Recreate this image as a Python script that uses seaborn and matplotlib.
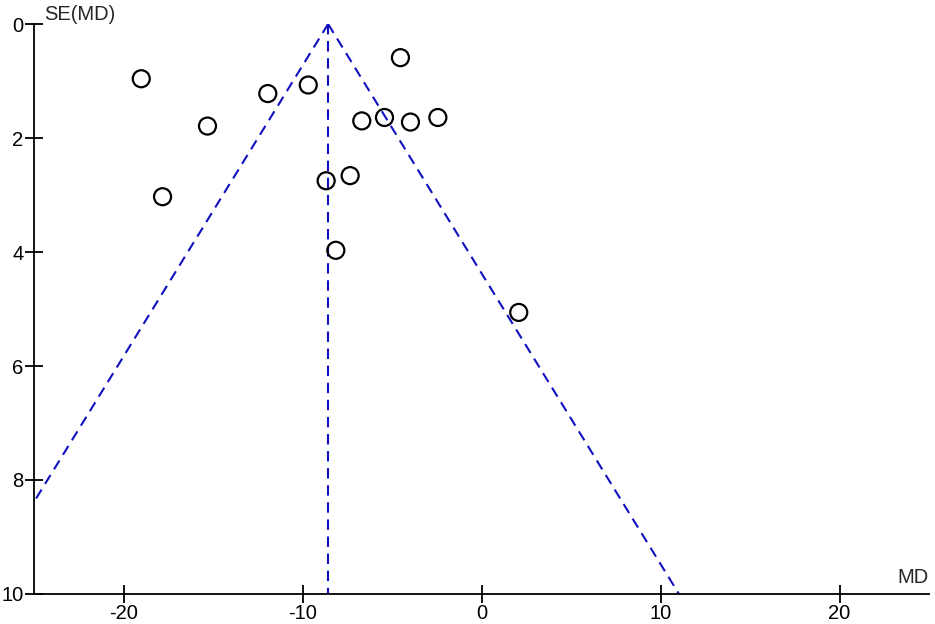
import matplotlib
matplotlib.use("Agg")
import matplotlib.pyplot as plt
import seaborn as sns
import numpy as np
import pandas as pd

md = [-4.53, -9.68, -11.94, -6.69, -5.42, -3.97, -2.44, -7.34, -8.68, -8.14,
      -19.01, -15.31, -17.82, 2.08]
se = [0.59, 1.07, 1.22, 1.70, 1.64, 1.72, 1.64, 2.66, 2.75, 3.97,
      0.96, 1.79, 3.03, 5.06]
pooled_md = -8.57
x_ticks = [-20, -10, 0, 10, 20]
y_ticks = [0, 2, 4, 6, 8, 10]

sns.set_style("white")
plt.rcParams['font.family'] = ['Liberation Sans', 'DejaVu Sans']

df = pd.DataFrame({"MD": md, "SE": se})

fig = plt.figure(figsize=(9.35, 6.24), dpi=100)
ax = fig.add_axes([0.0364, 0.0481, 0.9572, 0.9134])

se_line = np.array([0.0, 10.0])
blue = "#1010c0"
dash = (0, (5, 3.2))
ax.plot([pooled_md, pooled_md], [0, 10], ls=dash, color=blue, lw=1.5, zorder=1)
ax.plot(pooled_md - 1.96 * se_line, se_line, ls=dash, color=blue, lw=1.5, zorder=1)
ax.plot(pooled_md + 1.96 * se_line, se_line, ls=dash, color=blue, lw=1.5, zorder=1)

sns.scatterplot(data=df, x="MD", y="SE", ax=ax, marker="o", s=150,
                facecolor="none", edgecolor="black", linewidth=1.6, zorder=3)

ax.set_xlim(-25, 25)
ax.set_ylim(10, 0)
ax.set_xticks(x_ticks)
ax.set_yticks(y_ticks)
ax.set_xticklabels([str(v) for v in x_ticks])
ax.set_yticklabels([str(v) for v in y_ticks])
ax.set_xlabel("")
ax.set_ylabel("")
for s in ["top", "right"]:
    ax.spines[s].set_visible(False)
for s in ["left", "bottom"]:
    ax.spines[s].set_color("black")
    ax.spines[s].set_linewidth(1.3)
ax.tick_params(axis="both", which="major", direction="inout", length=13, width=1.3,
               labelsize=14.5, colors="black", bottom=True, left=True)
ax.tick_params(axis="x", pad=1)
ax.tick_params(axis="y", pad=1)

ax.text(0.011, 1.0, "SE(MD)", transform=ax.transAxes, fontsize=14.5,
        ha="left", va="bottom")
ax.text(1.0, 0.012, "MD", transform=ax.transAxes, fontsize=14.5,
        ha="right", va="bottom")

fig.savefig("out.png", dpi=100)
